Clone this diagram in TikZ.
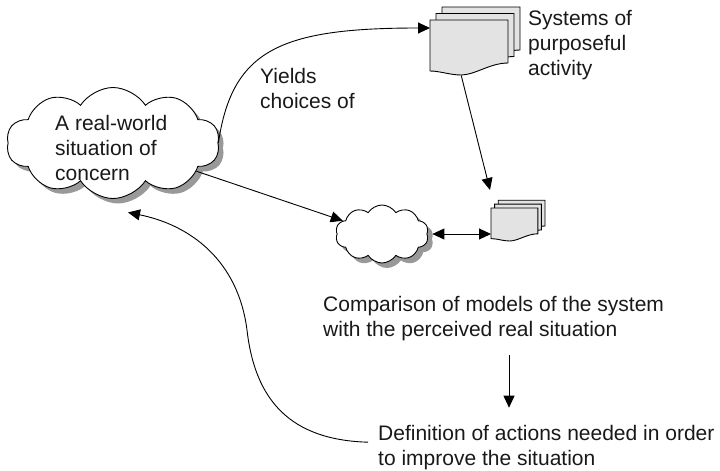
\documentclass[tikz,border=0pt]{standalone}
\usepackage{fontspec}
\setmainfont{Liberation Sans}
\usetikzlibrary{shapes.symbols,shadows,arrows.meta,calc}
\begin{document}
\begin{tikzpicture}[x=1pt,y=-1pt,
  txt/.style={font=\fontsize{21}{25}\selectfont, text=black!90, align=left, inner sep=0pt, anchor=north west},
  cloudbox/.style={cloud, cloud puffs=10, cloud puff arc=115, draw=black, line width=0.9pt, fill=white,
    drop shadow={shadow xshift=5pt, shadow yshift=-5pt, fill=black!40, opacity=1}},
  conn/.style={line width=0.9pt, >={Triangle[length=12pt,width=11pt]}},
  page/.style={draw=black, line width=0.9pt, fill=black!11},
  docarea/.style={inner sep=0pt, anchor=north west},
  docstack/.pic={
    \foreach \i in {2,1,0}{
      \path[page, shift={(6*\i,-6.5*\i)}] (0,0) -- (78,0) -- (78,43)
        .. controls (60,43) and (45,55) .. (31,55)
        .. controls (20,55) and (10,51) .. (0,51) -- cycle;
    }
  }
]
\useasboundingbox (0,0) rectangle (720,471);

% clouds
\node[cloudbox, minimum width=213pt, minimum height=111pt] (c1) at (113,143) {};
\node[txt] (c1text) at (55,114.7) {A real-world\\situation of\\concern};
\node[cloudbox, minimum width=93pt, minimum height=58pt] (c2) at (382,234) {};

% document stacks
\pic at (430,20) {docstack};
\node[docarea, minimum width=78pt, minimum height=55pt] (doc1) at (430,20) {};
\pic[scale=0.6] at (491,208) {docstack};
\node[docarea, minimum width=47pt, minimum height=33pt] (doc2) at (491,208) {};

% texts
\node[txt] (sys) at (528,9.7) {Systems of\\purposeful\\activity};
\node[txt] (yld) at (260,67.7) {Yields\\choices of};
\node[txt] (cmp) at (323,296) {Comparison of models of the system\\with the perceived real situation};
\node[txt] (def) at (378,424.7) {Definition of actions needed in order\\to improve the situation};

\coordinate (ax) at (509,0);
\coordinate (a2end) at (490,190);

% connectors
\draw[conn,->] (c1.east) .. controls (232,50) and (280,28) .. ([yshift=-8pt]doc1.north west);
\draw[conn,->] ([xshift=-8pt]doc1.south) -- (a2end);
\draw[conn,->] (c1) -- (c2);
\draw[conn,<->] ([xshift=5pt]c2.east) -- (c2.east -| doc2.west);
\draw[conn,->] ($(cmp.south -| ax)+(0,14)$) -- ($(def.north -| ax)+(0,-17)$);
\draw[conn,->] ([xshift=-10pt,yshift=5pt]def.west) .. controls (290,440) and (255,400) .. (247,330)
  .. controls (238,260) and (190,225) .. ([xshift=15pt,yshift=-13.5pt]c1.south);
\end{tikzpicture}
\end{document}
